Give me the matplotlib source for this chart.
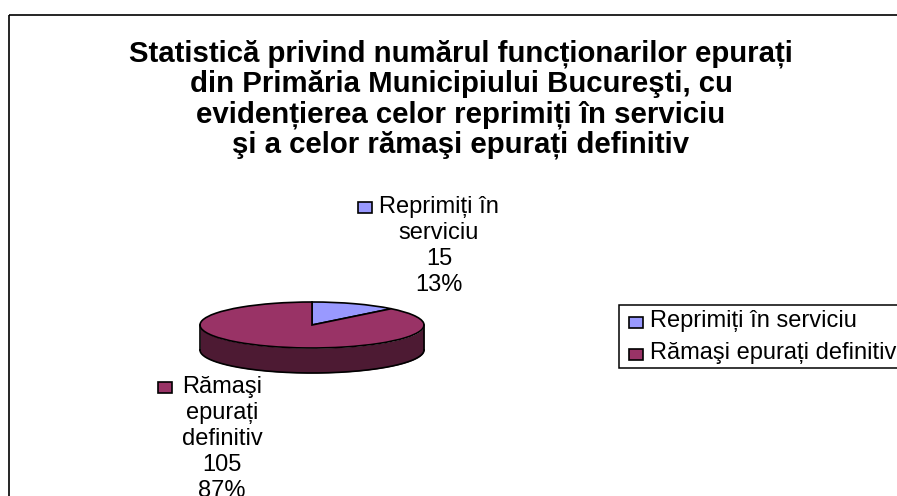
import matplotlib
matplotlib.use("Agg")
import matplotlib.pyplot as plt
import numpy as np
from matplotlib.patches import Rectangle
from matplotlib.transforms import Affine2D

categories = ["Reprimiți în serviciu", "Rămaşi epurați definitiv"]
values = [15, 105]
percents = ["13%", "87%"]
label_lines = [["Reprimiți în", "serviciu"], ["Rămaşi", "epurați", "definitiv"]]
colors = ["#9999FF", "#993366"]
side_color = "#4D1A33"
title_lines = ["Statistică privind numărul funcționarilor epurați",
               "din Primăria Municipiului Bucureşti, cu",
               "evidențierea celor reprimiți în serviciu",
               "şi a celor rămaşi epurați definitiv"]

plt.rcParams["font.family"] = ["Liberation Sans", "DejaVu Sans"]
W, H = 897, 496
fig = plt.figure(figsize=(W / 100, H / 100), dpi=100, facecolor="white")
px = Affine2D().scale(1, -1).translate(0, H)  # pixel coords, y downward

# chart area frame (runs off the right and bottom of the picture)
fig.add_artist(Rectangle((9, 15), W, H, transform=px, fill=False, ec="black", lw=1.2))

# title
for i, line in enumerate(title_lines):
    fig.text(461 / W, 1 - (54 + i * 30.3) / H, line, ha="center", va="center",
             fontsize=21.2, fontweight="bold", color="black")

# pie: axes is stretched so the unit circle shows as the flattened ellipse
cx, cy, rx, ry, depth = 312, 325, 112, 23, 25
ax = fig.add_axes([(cx - rx) / W, 1 - (cy + ry) / H, 2 * rx / W, 2 * ry / H])
d = depth / ry
t = np.linspace(np.pi, 2 * np.pi, 200)
ax.fill_between(np.cos(t), np.sin(t) - d, np.sin(t), color=side_color, lw=0, clip_on=False)
ax.plot(np.cos(t), np.sin(t) - d, color="black", lw=1.2, clip_on=False)
ax.plot([-1, -1], [0, -d], color="black", lw=1.2, clip_on=False)
ax.plot([1, 1], [0, -d], color="black", lw=1.2, clip_on=False)
wedges, _ = ax.pie(values, colors=colors, startangle=90, counterclock=False, radius=1,
                   wedgeprops=dict(edgecolor="black", linewidth=1.2, clip_on=False))
ax.set_aspect("auto")
ax.set_xlim(-1, 1)
ax.set_ylim(-1, 1)
ax.axis("off")


def key(x, y, color):
    fig.add_artist(Rectangle((x, y), 14, 11, transform=px, fc=color, ec="black", lw=1.2))


def data_label(xc, ytop, lines, value, pct, color, key_x):
    rows = lines + [str(value), pct]
    for i, r in enumerate(rows):
        fig.text(xc / W, 1 - (ytop + i * 25.9) / H, r, ha="center", va="center",
                 fontsize=17, color="black")
    key(key_x, ytop - 5, color)


data_label(439, 207, label_lines[0], values[0], percents[0], colors[0], 358)
data_label(222, 387, label_lines[1], values[1], percents[1], colors[1], 158)

# legend
fig.add_artist(Rectangle((619, 305), W, 63, transform=px, fc="white", ec="black", lw=1.1))
for i, (name, c) in enumerate(zip(categories, colors)):
    y = 321 + i * 31.5
    key(629, y - 4, c)
    fig.text(650 / W, 1 - y / H, name, ha="left", va="center", fontsize=17, color="black")

fig.savefig("out.png", dpi=100)
